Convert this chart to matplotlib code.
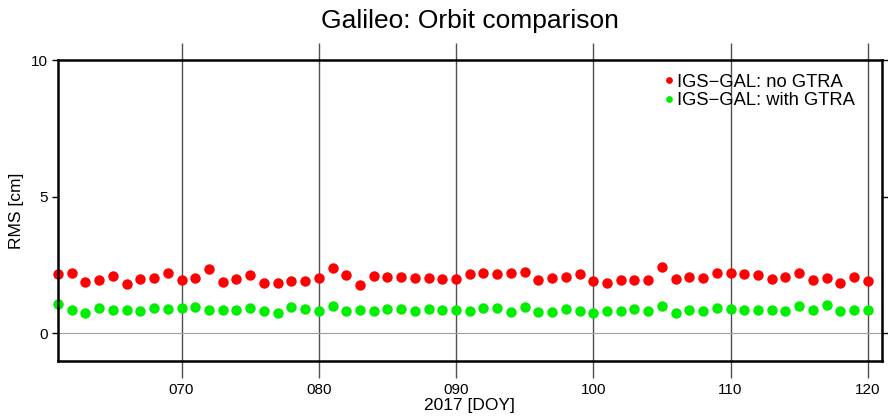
import matplotlib
matplotlib.use("Agg")
import matplotlib.pyplot as plt
from matplotlib.ticker import FixedLocator, FuncFormatter

plt.rcParams['font.family'] = ['Liberation Sans', 'DejaVu Sans']

days = list(range(61, 121))
no_gtra = [2.17, 2.19, 1.88, 1.95, 2.11, 1.82, 2.00, 2.01, 2.21, 1.95,
           2.04, 2.35, 1.88, 1.98, 2.12, 1.83, 1.84, 1.91, 1.93, 2.01,
           2.38, 2.12, 1.78, 2.11, 2.06, 2.08, 2.02, 2.04, 1.99, 2.00,
           2.18, 2.22, 2.17, 2.19, 2.23, 1.95, 2.02, 2.07, 2.16, 1.91,
           1.83, 1.97, 1.95, 1.97, 2.41, 2.00, 2.07, 2.04, 2.22, 2.19,
           2.17, 2.12, 2.00, 2.07, 2.22, 1.96, 2.01, 1.85, 2.05, 1.90]
with_gtra = [1.06, 0.85, 0.75, 0.91, 0.87, 0.87, 0.82, 0.94, 0.89, 0.94,
             0.95, 0.84, 0.85, 0.85, 0.94, 0.80, 0.75, 0.96, 0.88, 0.82,
             1.01, 0.83, 0.85, 0.82, 0.90, 0.88, 0.80, 0.89, 0.85, 0.84,
             0.80, 0.91, 0.91, 0.78, 0.95, 0.79, 0.78, 0.88, 0.82, 0.76,
             0.83, 0.83, 0.88, 0.82, 1.01, 0.75, 0.84, 0.83, 0.91, 0.88,
             0.85, 0.85, 0.85, 0.83, 0.99, 0.84, 1.02, 0.82, 0.85, 0.84]
xticks = [70, 80, 90, 100, 110, 120]
yticks = [0, 5, 10]
labels = ['IGS\u2212GAL: no GTRA', 'IGS\u2212GAL: with GTRA']

fig = plt.figure(figsize=(8.88, 4.18), dpi=100)
ax = fig.add_axes([58/888, 1-360.7/418, (881.5-58)/888, (360.7-60)/418])
ax.set_xlim(61, 121)
ax.set_ylim(-1, 10)

for xv in xticks:
    ax.axvline(xv, color='#505050', lw=1.0, zorder=1)
ax.axhline(0, color='#a0a0a0', lw=0.8, zorder=1)

ax.plot(days, no_gtra, 'o', color='#ff0000', ms=7.5, mew=0, label=labels[0], zorder=3, clip_on=False)
ax.plot(days, with_gtra, 'o', color='#00ee00', ms=7.5, mew=0, label=labels[1], zorder=3, clip_on=False)

ax.xaxis.set_major_locator(FixedLocator(xticks))
ax.xaxis.set_major_formatter(FuncFormatter(lambda v, p: '%03d' % int(round(v))))
ax.yaxis.set_major_locator(FixedLocator(yticks))
ax.tick_params(axis='x', which='major', direction='out', length=12, width=1.0,
               color='#505050', top=True, bottom=True, labelsize=11, pad=4)
ax.tick_params(axis='y', which='major', direction='out', length=4, width=1.0,
               left=True, right=True, labelsize=11, pad=3)
for s in ax.spines.values():
    s.set_linewidth(1.8)
    s.set_zorder(4)

ax.set_ylabel('RMS [cm]', fontsize=12.5, labelpad=5)
ax.set_xlabel('2017 [DOY]', fontsize=12.5, labelpad=1)
fig.text((58 + 881.5) / 2 / 888, 1-21/418, 'Galileo: Orbit comparison', ha='center', va='center', fontsize=19)

leg = ax.legend(loc='upper right', bbox_to_anchor=(0.968, 0.955), frameon=False,
                fontsize=13.2, handletextpad=0.0, handlelength=0.9, borderpad=0,
                borderaxespad=0, labelspacing=0.1, markerscale=0.65)

fig.savefig('out.png', dpi=100)
